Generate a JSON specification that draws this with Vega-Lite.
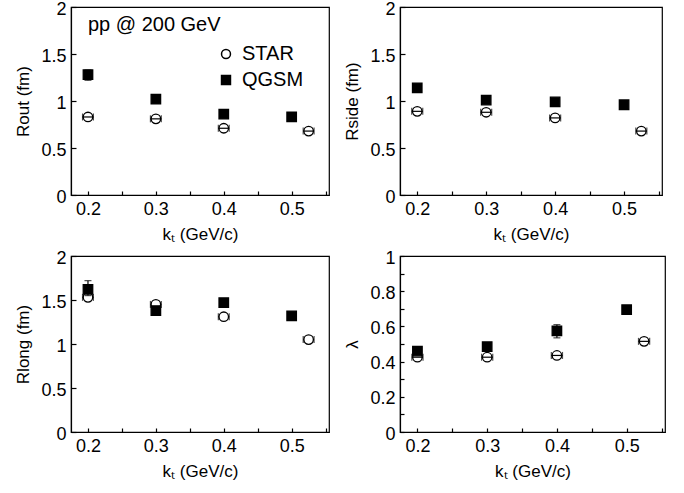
{
  "$schema": "https://vega.github.io/schema/vega-lite/v6.json",
  "background": "white",
  "padding": {"left": 14, "top": -1, "right": 5, "bottom": 5},
  "config": {
    "font": "Liberation Sans",
    "view": {"stroke": "black", "strokeWidth": 1.2},
    "axis": {
      "grid": false,
      "domainColor": "black",
      "domainWidth": 1.2,
      "tickColor": "black",
      "labelColor": "black",
      "titleColor": "black",
      "labelFont": "Liberation Sans",
      "titleFont": "Liberation Sans",
      "labelFontSize": 18,
      "titleFontSize": 17,
      "titleFontWeight": "normal",
      "titlePadding": 8
    },
    "legend": {
      "labelFont": "Liberation Sans",
      "labelFontSize": 20,
      "labelColor": "black"
    }
  },
  "datasets": {
    "pts": [
      {"panel": "out", "series": "STAR", "kt": 0.2, "v": 0.83, "klo": 0.192, "khi": 0.208},
      {"panel": "out", "series": "STAR", "kt": 0.3, "v": 0.81, "klo": 0.292, "khi": 0.308},
      {"panel": "out", "series": "STAR", "kt": 0.4, "v": 0.71, "klo": 0.392, "khi": 0.408},
      {"panel": "out", "series": "STAR", "kt": 0.525, "v": 0.68, "klo": 0.517, "khi": 0.533},
      {"panel": "out", "series": "QGSM", "kt": 0.2, "v": 1.28, "vlo": 1.22, "vhi": 1.33},
      {"panel": "out", "series": "QGSM", "kt": 0.3, "v": 1.02, "vlo": 0.98, "vhi": 1.06},
      {"panel": "out", "series": "QGSM", "kt": 0.4, "v": 0.86, "vlo": 0.83, "vhi": 0.89},
      {"panel": "out", "series": "QGSM", "kt": 0.5, "v": 0.83},
      {"panel": "side", "series": "STAR", "kt": 0.2, "v": 0.89, "klo": 0.192, "khi": 0.208},
      {"panel": "side", "series": "STAR", "kt": 0.3, "v": 0.88, "klo": 0.292, "khi": 0.308},
      {"panel": "side", "series": "STAR", "kt": 0.4, "v": 0.82, "klo": 0.392, "khi": 0.408},
      {"panel": "side", "series": "STAR", "kt": 0.525, "v": 0.68, "klo": 0.517, "khi": 0.533},
      {"panel": "side", "series": "QGSM", "kt": 0.2, "v": 1.14},
      {"panel": "side", "series": "QGSM", "kt": 0.3, "v": 1.01},
      {"panel": "side", "series": "QGSM", "kt": 0.4, "v": 0.99},
      {"panel": "side", "series": "QGSM", "kt": 0.5, "v": 0.96},
      {"panel": "long", "series": "STAR", "kt": 0.2, "v": 1.53, "klo": 0.192, "khi": 0.208},
      {"panel": "long", "series": "STAR", "kt": 0.3, "v": 1.45, "klo": 0.292, "khi": 0.308},
      {"panel": "long", "series": "STAR", "kt": 0.4, "v": 1.31, "klo": 0.392, "khi": 0.408},
      {"panel": "long", "series": "STAR", "kt": 0.525, "v": 1.05, "klo": 0.517, "khi": 0.533},
      {"panel": "long", "series": "QGSM", "kt": 0.2, "v": 1.62, "vlo": 1.55, "vhi": 1.72},
      {"panel": "long", "series": "QGSM", "kt": 0.3, "v": 1.38},
      {"panel": "long", "series": "QGSM", "kt": 0.4, "v": 1.47},
      {"panel": "long", "series": "QGSM", "kt": 0.5, "v": 1.32},
      {"panel": "lambda", "series": "STAR", "kt": 0.2, "v": 0.425, "klo": 0.192, "khi": 0.208},
      {"panel": "lambda", "series": "STAR", "kt": 0.3, "v": 0.425, "klo": 0.292, "khi": 0.308},
      {"panel": "lambda", "series": "STAR", "kt": 0.4, "v": 0.435, "klo": 0.392, "khi": 0.408},
      {"panel": "lambda", "series": "STAR", "kt": 0.525, "v": 0.515, "klo": 0.517, "khi": 0.533},
      {"panel": "lambda", "series": "QGSM", "kt": 0.2, "v": 0.46},
      {"panel": "lambda", "series": "QGSM", "kt": 0.3, "v": 0.485},
      {"panel": "lambda", "series": "QGSM", "kt": 0.4, "v": 0.575, "vlo": 0.535, "vhi": 0.61},
      {"panel": "lambda", "series": "QGSM", "kt": 0.5, "v": 0.695, "vlo": 0.68, "vhi": 0.71}
    ]
  },
  "columns": 2,
  "spacing": {"row": 5, "column": 13},
  "resolve": {"legend": {"shape": "independent", "fill": "independent"}},
  "concat": [
    {
      "width": 258, "height": 188,
      "data": {"name": "pts"},
      "transform": [{"filter": "datum.panel === 'out'"}],
      "layer": [
        {
          "mark": {"type": "point", "filled": true, "stroke": "black", "strokeWidth": 1.3, "size": 90, "opacity": 1},
          "encoding": {
            "x": {"field": "kt", "type": "quantitative", "scale": {"domain": [0.175, 0.555], "nice": false, "zero": false}, "title": "kₜ (GeV/c)",
              "axis": {"values": [0.2, 0.25, 0.3, 0.35, 0.4, 0.45, 0.5, 0.55], "tickCount": 40, "labelOverlap": false, "tickSize": -4, "tickWidth": 1.2, "labelPadding": 9, "labelExpr": "abs(datum.value*10 - round(datum.value*10)) < 0.01 ? format(datum.value, '.1f') : ''"}},
            "y": {"field": "v", "type": "quantitative", "scale": {"domain": [0, 2], "nice": false}, "title": "Rout (fm)",
              "axis": {"values": [0, 0.5, 1, 1.5, 2], "tickCount": 40, "format": "~g", "tickSize": -5, "tickWidth": 1.2, "labelPadding": 10, "labelOffset": 2}},
            "shape": {"field": "series", "type": "nominal", "scale": {"domain": ["STAR", "QGSM"], "range": ["circle", "square"]},
              "legend": {"title": null, "orient": "none", "legendX": 145, "legendY": 37, "symbolSize": 80, "rowPadding": 6, "labelOffset": 6,
                "encode": {"symbols": {"update": {"stroke": {"value": "black"}, "strokeWidth": {"value": 1.2}}}}}},
            "fill": {"field": "series", "type": "nominal", "scale": {"domain": ["STAR", "QGSM"], "range": ["white", "black"]},
              "legend": {"title": null, "orient": "none", "legendX": 145, "legendY": 37, "symbolSize": 80, "rowPadding": 6, "labelOffset": 6,
                "encode": {"symbols": {"update": {"stroke": {"value": "black"}, "strokeWidth": {"value": 1.2}}}}}}
          }
        },
        {
          "data": {"values": [{"label": "pp @ 200 GeV", "kt": 0.2, "v": 1.81}]},
          "transform": [],
          "mark": {"type": "text", "align": "left", "baseline": "middle", "fontSize": 20, "font": "Liberation Sans", "color": "black"},
          "encoding": {
            "x": {"field": "kt", "type": "quantitative", "scale": {"domain": [0.175, 0.555], "nice": false, "zero": false}, "title": "kₜ (GeV/c)"},
            "y": {"field": "v", "type": "quantitative", "scale": {"domain": [0, 2], "nice": false}, "title": "Rout (fm)"},
            "text": {"field": "label"}
          }
        },
        {
          "transform": [{"filter": "datum.series === 'STAR'"}],
          "mark": {"type": "errorbar", "ticks": {"size": 7, "color": "black"}, "color": "black", "thickness": 1.2},
          "encoding": {
            "x": {"field": "klo", "type": "quantitative", "scale": {"domain": [0.175, 0.555], "nice": false, "zero": false}, "title": "kₜ (GeV/c)"},
            "x2": {"field": "khi"},
            "y": {"field": "v", "type": "quantitative", "scale": {"domain": [0, 2], "nice": false}, "title": "Rout (fm)"}
          }
        },
        {
          "transform": [{"filter": "isValid(datum.vlo)"}],
          "mark": {"type": "errorbar", "ticks": {"size": 7, "color": "black"}, "color": "black", "thickness": 1.2},
          "encoding": {
            "x": {"field": "kt", "type": "quantitative", "scale": {"domain": [0.175, 0.555], "nice": false, "zero": false}, "title": "kₜ (GeV/c)"},
            "y": {"field": "vlo", "type": "quantitative", "scale": {"domain": [0, 2], "nice": false}, "title": "Rout (fm)"},
            "y2": {"field": "vhi"}
          }
        }
      ]
    },
    {
      "width": 262, "height": 188,
      "data": {"name": "pts"},
      "transform": [{"filter": "datum.panel === 'side'"}],
      "layer": [
        {
          "mark": {"type": "point", "filled": true, "stroke": "black", "strokeWidth": 1.3, "size": 90, "opacity": 1},
          "encoding": {
            "x": {"field": "kt", "type": "quantitative", "scale": {"domain": [0.175, 0.555], "nice": false, "zero": false}, "title": "kₜ (GeV/c)",
              "axis": {"values": [0.2, 0.25, 0.3, 0.35, 0.4, 0.45, 0.5, 0.55], "tickCount": 40, "labelOverlap": false, "tickSize": -4, "tickWidth": 1.2, "labelPadding": 9, "labelExpr": "abs(datum.value*10 - round(datum.value*10)) < 0.01 ? format(datum.value, '.1f') : ''"}},
            "y": {"field": "v", "type": "quantitative", "scale": {"domain": [0, 2], "nice": false}, "title": "Rside (fm)",
              "axis": {"values": [0, 0.5, 1, 1.5, 2], "tickCount": 40, "format": "~g", "tickSize": -5, "tickWidth": 1.2, "labelPadding": 10, "labelOffset": 2}},
            "shape": {"field": "series", "type": "nominal", "scale": {"domain": ["STAR", "QGSM"], "range": ["circle", "square"]}, "legend": null},
            "fill": {"field": "series", "type": "nominal", "scale": {"domain": ["STAR", "QGSM"], "range": ["white", "black"]}, "legend": null}
          }
        },
        {
          "transform": [{"filter": "datum.series === 'STAR'"}],
          "mark": {"type": "errorbar", "ticks": {"size": 7, "color": "black"}, "color": "black", "thickness": 1.2},
          "encoding": {
            "x": {"field": "klo", "type": "quantitative", "scale": {"domain": [0.175, 0.555], "nice": false, "zero": false}, "title": "kₜ (GeV/c)"},
            "x2": {"field": "khi"},
            "y": {"field": "v", "type": "quantitative", "scale": {"domain": [0, 2], "nice": false}, "title": "Rside (fm)"}
          }
        }
      ]
    },
    {
      "width": 258, "height": 176,
      "data": {"name": "pts"},
      "transform": [{"filter": "datum.panel === 'long'"}],
      "layer": [
        {
          "transform": [{"filter": "datum.series === 'STAR'"}],
          "mark": {"type": "errorbar", "ticks": {"size": 7, "color": "black"}, "color": "black", "thickness": 1.2},
          "encoding": {
            "x": {"field": "klo", "type": "quantitative", "scale": {"domain": [0.175, 0.555], "nice": false, "zero": false}, "title": "kₜ (GeV/c)",
              "axis": {"values": [0.2, 0.25, 0.3, 0.35, 0.4, 0.45, 0.5, 0.55], "tickCount": 40, "labelOverlap": false, "tickSize": -4, "tickWidth": 1.2, "labelPadding": 9, "labelExpr": "abs(datum.value*10 - round(datum.value*10)) < 0.01 ? format(datum.value, '.1f') : ''"}},
            "x2": {"field": "khi"},
            "y": {"field": "v", "type": "quantitative", "scale": {"domain": [0, 2], "nice": false}, "title": "Rlong (fm)",
              "axis": {"values": [0, 0.5, 1, 1.5, 2], "tickCount": 40, "format": "~g", "tickSize": -5, "tickWidth": 1.2, "labelPadding": 10, "labelOffset": 2}}
          }
        },
        {
          "mark": {"type": "point", "filled": true, "stroke": "black", "strokeWidth": 1.3, "size": 90, "opacity": 1},
          "encoding": {
            "x": {"field": "kt", "type": "quantitative", "scale": {"domain": [0.175, 0.555], "nice": false, "zero": false}, "title": "kₜ (GeV/c)"},
            "y": {"field": "v", "type": "quantitative", "scale": {"domain": [0, 2], "nice": false}, "title": "Rlong (fm)"},
            "shape": {"field": "series", "type": "nominal", "scale": {"domain": ["STAR", "QGSM"], "range": ["circle", "square"]}, "legend": null},
            "fill": {"field": "series", "type": "nominal", "scale": {"domain": ["STAR", "QGSM"], "range": ["white", "black"]}, "legend": null}
          }
        },
        {
          "transform": [{"filter": "isValid(datum.vlo)"}],
          "mark": {"type": "errorbar", "ticks": {"size": 7, "color": "black"}, "color": "black", "thickness": 1.2},
          "encoding": {
            "x": {"field": "kt", "type": "quantitative", "scale": {"domain": [0.175, 0.555], "nice": false, "zero": false}, "title": "kₜ (GeV/c)"},
            "y": {"field": "vlo", "type": "quantitative", "scale": {"domain": [0, 2], "nice": false}, "title": "Rlong (fm)"},
            "y2": {"field": "vhi"}
          }
        }
      ]
    },
    {
      "width": 265, "height": 176,
      "data": {"name": "pts"},
      "transform": [{"filter": "datum.panel === 'lambda'"}],
      "layer": [
        {
          "mark": {"type": "point", "filled": true, "stroke": "black", "strokeWidth": 1.3, "size": 90, "opacity": 1},
          "encoding": {
            "x": {"field": "kt", "type": "quantitative", "scale": {"domain": [0.175, 0.555], "nice": false, "zero": false}, "title": "kₜ (GeV/c)",
              "axis": {"values": [0.2, 0.25, 0.3, 0.35, 0.4, 0.45, 0.5, 0.55], "tickCount": 40, "labelOverlap": false, "tickSize": -4, "tickWidth": 1.2, "labelPadding": 9, "labelExpr": "abs(datum.value*10 - round(datum.value*10)) < 0.01 ? format(datum.value, '.1f') : ''"}},
            "y": {"field": "v", "type": "quantitative", "scale": {"domain": [0, 1], "nice": false}, "title": "λ",
              "axis": {"values": [0, 0.1, 0.2, 0.3, 0.4, 0.5, 0.6, 0.7, 0.8, 0.9, 1], "tickCount": 40, "labelExpr": "round(datum.value*10) % 2 == 0 ? format(datum.value, '~g') : ''", "labelOverlap": false, "tickSize": -4, "tickWidth": 1.2, "labelPadding": 9, "labelOffset": 2}},
            "shape": {"field": "series", "type": "nominal", "scale": {"domain": ["STAR", "QGSM"], "range": ["circle", "square"]}, "legend": null},
            "fill": {"field": "series", "type": "nominal", "scale": {"domain": ["STAR", "QGSM"], "range": ["white", "black"]}, "legend": null}
          }
        },
        {
          "transform": [{"filter": "datum.series === 'STAR'"}],
          "mark": {"type": "errorbar", "ticks": {"size": 7, "color": "black"}, "color": "black", "thickness": 1.2},
          "encoding": {
            "x": {"field": "klo", "type": "quantitative", "scale": {"domain": [0.175, 0.555], "nice": false, "zero": false}, "title": "kₜ (GeV/c)"},
            "x2": {"field": "khi"},
            "y": {"field": "v", "type": "quantitative", "scale": {"domain": [0, 1], "nice": false}, "title": "λ"}
          }
        },
        {
          "transform": [{"filter": "isValid(datum.vlo)"}],
          "mark": {"type": "errorbar", "ticks": {"size": 7, "color": "black"}, "color": "black", "thickness": 1.2},
          "encoding": {
            "x": {"field": "kt", "type": "quantitative", "scale": {"domain": [0.175, 0.555], "nice": false, "zero": false}, "title": "kₜ (GeV/c)"},
            "y": {"field": "vlo", "type": "quantitative", "scale": {"domain": [0, 1], "nice": false}, "title": "λ"},
            "y2": {"field": "vhi"}
          }
        }
      ]
    }
  ]
}
